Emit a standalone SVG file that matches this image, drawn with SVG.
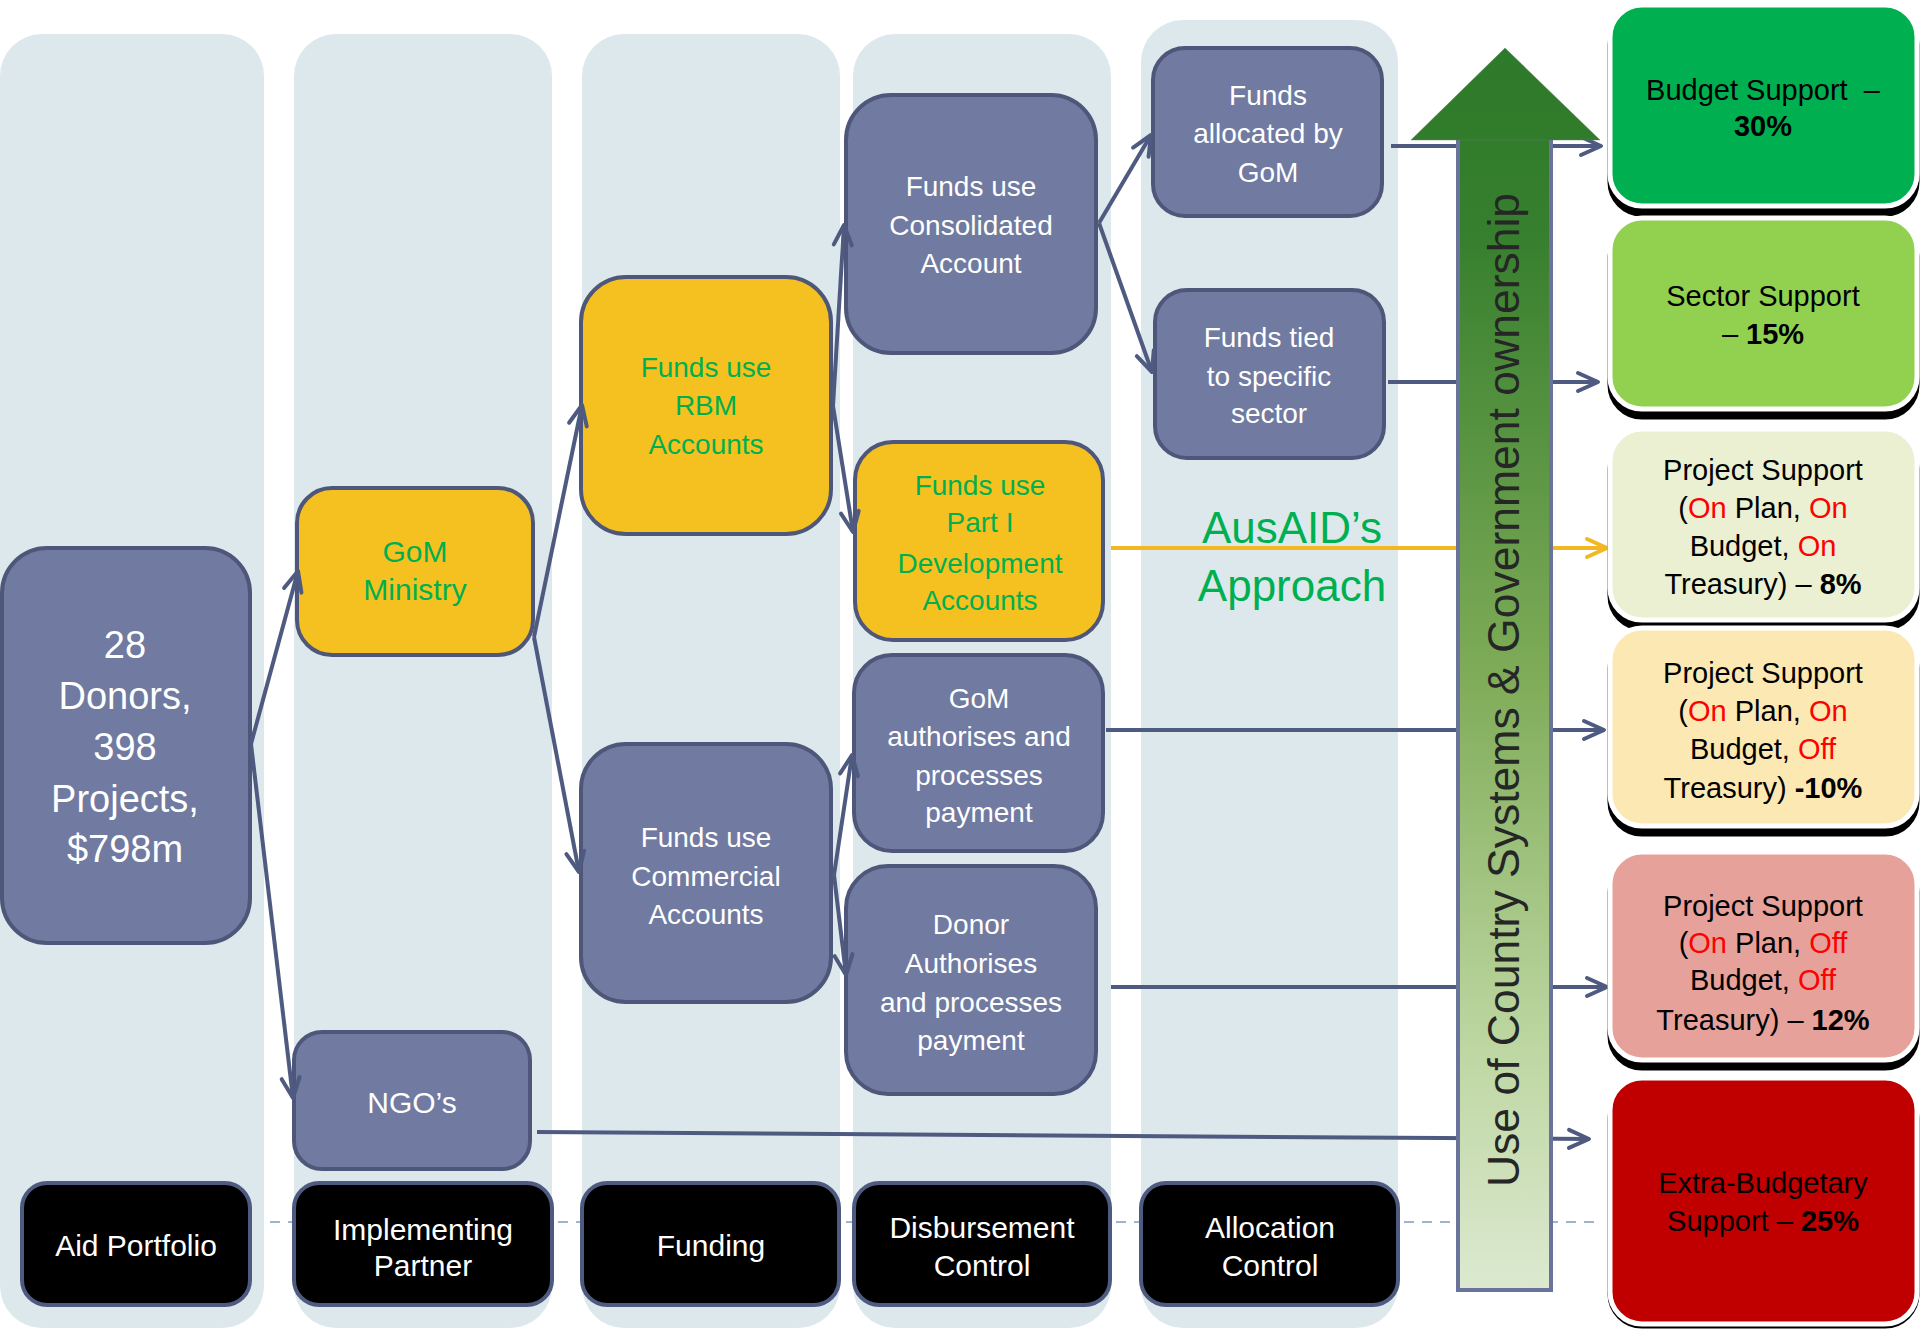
<svg xmlns="http://www.w3.org/2000/svg" width="1920" height="1329" viewBox="0 0 1920 1329">
<style>
.lane{fill:#DDE8ED}
.n{fill:#717AA0;stroke:#4E5779;stroke-width:4}
.y{fill:#F5C120;stroke:#4E5779;stroke-width:4}
.lb{fill:#000;stroke:#4F5A80;stroke-width:4}
.t{font-family:"Liberation Sans",Arial,sans-serif;text-anchor:middle;fill:#fff}
.g{fill:#00B050}
.k{fill:#000}
.r{fill:#FF0000}
.b{font-weight:bold}
.c{fill:none;stroke:#4F5A80;stroke-width:4;marker-end:url(#ah)}
.cy{fill:none;stroke:#F2B824;stroke-width:4;marker-end:url(#ay)}
.sh{fill:#000;stroke:#000;stroke-width:5}
.rb{stroke:#fff;stroke-width:5}
</style>
<defs>
<marker id="ah" viewBox="-26 -15 30 30" markerWidth="30" markerHeight="30" refX="0" refY="0" orient="auto" markerUnits="userSpaceOnUse">
<path d="M-20,-9 L0,0 L-20,9" fill="none" stroke="#4F5A80" stroke-width="4" stroke-linecap="round" stroke-linejoin="round"/>
</marker>
<marker id="ay" viewBox="-26 -15 30 30" markerWidth="30" markerHeight="30" refX="0" refY="0" orient="auto" markerUnits="userSpaceOnUse">
<path d="M-20,-9 L0,0 L-20,9" fill="none" stroke="#F2B824" stroke-width="4" stroke-linecap="round" stroke-linejoin="round"/>
</marker>
<linearGradient id="ag" gradientUnits="userSpaceOnUse" x1="0" y1="48" x2="0" y2="1290">
<stop offset="0" stop-color="#2D7A2A"/>
<stop offset="0.15" stop-color="#367F2E"/>
<stop offset="0.5" stop-color="#7EAB57"/>
<stop offset="0.8" stop-color="#BDD6A1"/>
<stop offset="1" stop-color="#DCE9D0"/>
</linearGradient>
</defs>

<line x1="0" y1="1222" x2="1600" y2="1222" stroke="#9DB6CF" stroke-width="2" stroke-dasharray="10 8"/>

<g id="lanes">
<rect class="lane" x="0" y="34" width="264" height="1294" rx="42"/>
<rect class="lane" x="294" y="34" width="258" height="1294" rx="42"/>
<rect class="lane" x="582" y="34" width="258" height="1294" rx="42"/>
<rect class="lane" x="853" y="34" width="258" height="1294" rx="42"/>
<rect class="lane" x="1141" y="20" width="257" height="1308" rx="42"/>
</g>

<g id="donors">
<rect class="n" x="2" y="548" width="248" height="395" rx="45"/>
<text class="t" font-size="38" x="125"><tspan x="125" y="658">28</tspan><tspan x="125" y="709">Donors,</tspan><tspan x="125" y="760">398</tspan><tspan x="125" y="812">Projects,</tspan><tspan x="125" y="862">$798m</tspan></text>
</g>

<g id="gom-ministry">
<rect class="y" x="297" y="488" width="236" height="167" rx="35"/>
<text class="t g" font-size="30"><tspan x="415" y="562">GoM</tspan><tspan x="415" y="600">Ministry</tspan></text>
</g>

<g id="ngos">
<rect class="n" x="294" y="1032" width="236" height="137" rx="28"/>
<text class="t" font-size="30" x="412" y="1113">NGO’s</text>
</g>

<g id="rbm">
<rect class="y" x="581" y="277" width="250" height="257" rx="45"/>
<text class="t g" font-size="28"><tspan x="706" y="377">Funds use</tspan><tspan x="706" y="415">RBM</tspan><tspan x="706" y="454">Accounts</tspan></text>
</g>

<g id="consolidated">
<rect class="n" x="846" y="95" width="250" height="258" rx="45"/>
<text class="t" font-size="28"><tspan x="971" y="196">Funds use</tspan><tspan x="971" y="235">Consolidated</tspan><tspan x="971" y="273">Account</tspan></text>
</g>

<g id="part1">
<rect class="y" x="855" y="442" width="248" height="198" rx="38"/>
<text class="t g" font-size="28"><tspan x="980" y="495">Funds use</tspan><tspan x="980" y="532">Part I</tspan><tspan x="980" y="573">Development</tspan><tspan x="980" y="610">Accounts</tspan></text>
</g>

<g id="gom-auth">
<rect class="n" x="854" y="655" width="249" height="196" rx="38"/>
<text class="t" font-size="28"><tspan x="979" y="708">GoM</tspan><tspan x="979" y="746">authorises and</tspan><tspan x="979" y="785">processes</tspan><tspan x="979" y="822">payment</tspan></text>
</g>

<g id="donor-auth">
<rect class="n" x="846" y="866" width="250" height="228" rx="42"/>
<text class="t" font-size="28"><tspan x="971" y="934">Donor</tspan><tspan x="971" y="973">Authorises</tspan><tspan x="971" y="1012">and processes</tspan><tspan x="971" y="1050">payment</tspan></text>
</g>

<g id="commercial">
<rect class="n" x="581" y="744" width="250" height="258" rx="45"/>
<text class="t" font-size="28"><tspan x="706" y="847">Funds use</tspan><tspan x="706" y="886">Commercial</tspan><tspan x="706" y="924">Accounts</tspan></text>
</g>

<g id="allocated">
<rect class="n" x="1153" y="48" width="229" height="168" rx="32"/>
<text class="t" font-size="28"><tspan x="1268" y="105">Funds</tspan><tspan x="1268" y="143">allocated by</tspan><tspan x="1268" y="182">GoM</tspan></text>
</g>

<g id="tied">
<rect class="n" x="1155" y="290" width="229" height="168" rx="32"/>
<text class="t" font-size="28"><tspan x="1269" y="347">Funds tied</tspan><tspan x="1269" y="386">to specific</tspan><tspan x="1269" y="423">sector</tspan></text>
</g>

<g id="connectors">
<path class="c" d="M251,744 L298,571"/>
<path class="c" d="M251,744 L293,1098"/>
<path class="c" d="M534,637 L582,405"/>
<path class="c" d="M534,637 L579,872"/>
<path class="c" d="M833,406 L844,225"/>
<path class="c" d="M833,406 L853,532"/>
<path class="c" d="M1099,223 L1151,135"/>
<path class="c" d="M1099,223 L1152,372"/>
<path class="c" d="M834,875 L852,755"/>
<path class="c" d="M834,875 L846,975"/>
<path class="c" d="M1391,146 L1601,146"/>
<path class="c" d="M1388,382 L1598,382"/>
<path class="cy" d="M1111,548 L1607,548"/>
<path class="c" d="M1106,730 L1604,730"/>
<path class="c" d="M1111,987 L1607,987"/>
<path class="c" d="M537,1132 L1589,1139"/>
</g>

<g id="ownership-arrow">
<rect x="1458" y="138" width="93" height="1152" fill="url(#ag)" stroke="#6A7399" stroke-width="4"/>
<polygon points="1505,48 1600,140 1411,140" fill="url(#ag)" stroke="#5E7A5E" stroke-width="1" stroke-opacity="0.4"/>
<text transform="translate(1519,690) rotate(-90)" font-family="'Liberation Sans',Arial,sans-serif" font-size="44.5" fill="#262626" text-anchor="middle" x="0" y="0">Use of Country Systems &amp; Government ownership</text>
</g>

<g id="ausaid">
<text class="t g" font-size="44"><tspan x="1292" y="543">AusAID’s</tspan><tspan x="1292" y="601">Approach</tspan></text>
</g>

<g id="budget-support">
<rect class="sh" x="1610" y="13" width="307" height="201" rx="32"/>
<rect class="rb" x="1610" y="5" width="307" height="201" rx="32" fill="#00B050"/>
<text class="t k" font-size="29"><tspan x="1763" y="100">Budget Support &#160;–</tspan><tspan x="1763" y="136" class="b">30%</tspan></text>
</g>

<g id="sector-support">
<rect class="sh" x="1610" y="226" width="307" height="191" rx="32"/>
<rect class="rb" x="1610" y="218" width="307" height="191" rx="32" fill="#92D050"/>
<text class="t k" font-size="29"><tspan x="1763" y="306">Sector Support</tspan><tspan x="1763" y="344">– <tspan class="b">15%</tspan></tspan></text>
</g>

<g id="project-on-on-on">
<rect class="sh" x="1610" y="437" width="307" height="191" rx="32"/>
<rect class="rb" x="1610" y="429" width="307" height="191" rx="32" fill="#EBF0D2"/>
<text class="t k" font-size="29"><tspan x="1763" y="480">Project Support</tspan><tspan x="1763" y="518">(<tspan class="r">On</tspan> Plan, <tspan class="r">On</tspan></tspan><tspan x="1763" y="556">Budget, <tspan class="r">On</tspan></tspan><tspan x="1763" y="594">Treasury) – <tspan class="b">8%</tspan></tspan></text>
</g>

<g id="project-on-on-off">
<rect class="sh" x="1610" y="636" width="307" height="198" rx="32"/>
<rect class="rb" x="1610" y="628" width="307" height="198" rx="32" fill="#FCE8B2"/>
<text class="t k" font-size="29"><tspan x="1763" y="683">Project Support</tspan><tspan x="1763" y="721">(<tspan class="r">On</tspan> Plan, <tspan class="r">On</tspan></tspan><tspan x="1763" y="759">Budget, <tspan class="r">Off</tspan></tspan><tspan x="1763" y="798">Treasury) <tspan class="b">-10%</tspan></tspan></text>
</g>

<g id="project-on-off-off">
<rect class="sh" x="1610" y="860" width="307" height="208" rx="32"/>
<rect class="rb" x="1610" y="852" width="307" height="208" rx="32" fill="#E6A19B"/>
<text class="t k" font-size="29"><tspan x="1763" y="916">Project Support</tspan><tspan x="1763" y="953">(<tspan class="r">On</tspan> Plan, <tspan class="r">Off</tspan></tspan><tspan x="1763" y="990">Budget, <tspan class="r">Off</tspan></tspan><tspan x="1763" y="1030">Treasury) – <tspan class="b">12%</tspan></tspan></text>
</g>

<g id="extra-budgetary">
<rect class="sh" x="1610" y="1086" width="307" height="240" rx="32"/>
<rect class="rb" x="1610" y="1078" width="307" height="246" rx="32" fill="#C00000"/>
<text class="t k" font-size="29"><tspan x="1763" y="1193">Extra-Budgetary</tspan><tspan x="1763" y="1231">Support – <tspan class="b">25%</tspan></tspan></text>
</g>

<g id="labels">
<g id="lbl-aid"><rect class="lb" x="22" y="1183" width="228" height="122" rx="25"/><text class="t" font-size="30" x="136" y="1256">Aid Portfolio</text></g>
<g id="lbl-impl"><rect class="lb" x="294" y="1183" width="258" height="122" rx="25"/><text class="t" font-size="30"><tspan x="423" y="1240">Implementing</tspan><tspan x="423" y="1276">Partner</tspan></text></g>
<g id="lbl-fund"><rect class="lb" x="582" y="1183" width="257" height="122" rx="25"/><text class="t" font-size="30" x="711" y="1256">Funding</text></g>
<g id="lbl-disb"><rect class="lb" x="854" y="1183" width="256" height="122" rx="25"/><text class="t" font-size="30"><tspan x="982" y="1238">Disbursement</tspan><tspan x="982" y="1276">Control</tspan></text></g>
<g id="lbl-alloc"><rect class="lb" x="1141" y="1183" width="257" height="122" rx="25"/><text class="t" font-size="30"><tspan x="1270" y="1238">Allocation</tspan><tspan x="1270" y="1276">Control</tspan></text></g>
</g>
</svg>
